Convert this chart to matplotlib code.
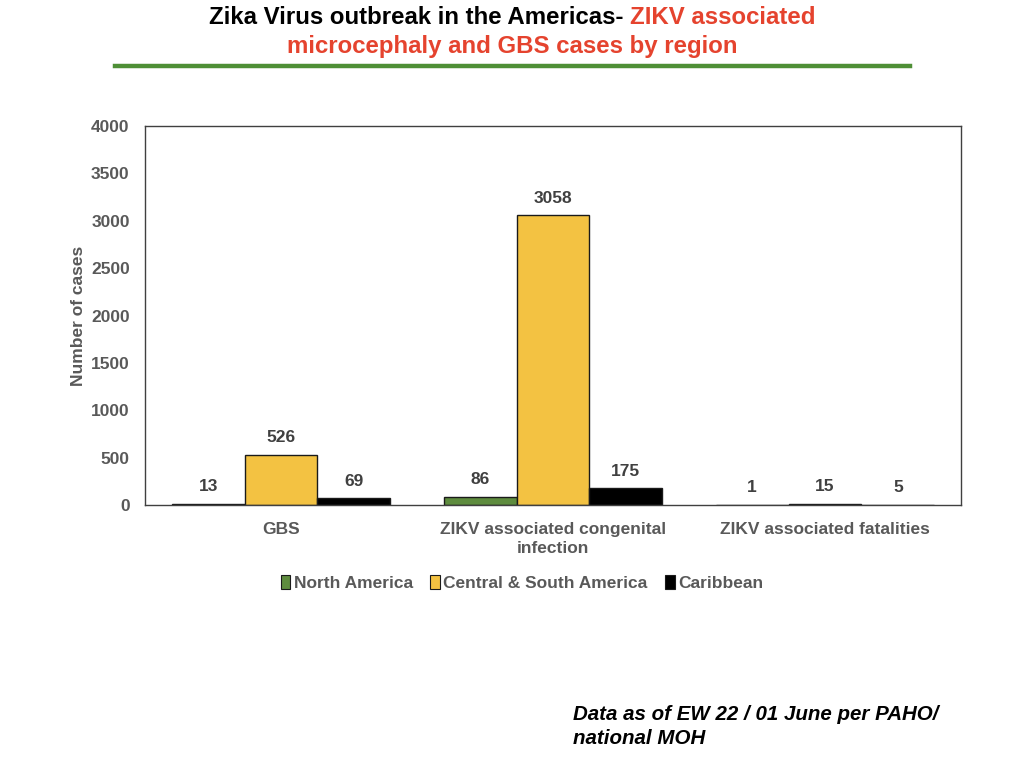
import matplotlib
matplotlib.use("Agg")
import matplotlib.pyplot as plt
import numpy as np
from matplotlib.patches import Patch
from matplotlib.lines import Line2D

categories = ["GBS", "ZIKV associated congenital\ninfection", "ZIKV associated fatalities"]
series_names = ["North America", "Central & South America", "Caribbean"]
north_america = [13, 86, 1]
central_south = [526, 3058, 15]
caribbean = [69, 175, 5]
yticks = [0, 500, 1000, 1500, 2000, 2500, 3000, 3500, 4000]

colors = ["#5e8c3e", "#f3c242", "#000000"]
gray = "#595959"

plt.rcParams['font.family'] = ['Liberation Sans', 'DejaVu Sans']

fig = plt.figure(figsize=(10.24, 7.68), dpi=100)
ax = fig.add_axes([145/1024, 1-505/768, 816/1024, 379/768])

x = np.arange(len(categories))
w = 0.268
allvals = [north_america, central_south, caribbean]
for i, (vals, c, name) in enumerate(zip(allvals, colors, series_names)):
    bars = ax.bar(x + (i-1)*w, vals, width=w, color=c, edgecolor="#1a1a1a", linewidth=1.0, label=name)
    for b, v in zip(bars, vals):
        ax.annotate(str(v), (b.get_x()+b.get_width()/2, v), xytext=(0, 7), textcoords="offset points",
                    ha="center", va="bottom", fontsize=12.5, fontweight="bold", color="#404040")

ax.set_xlim(-0.5, 2.5)
ax.set_ylim(0, 4000)
ax.set_yticks(yticks)
ax.set_yticklabels([str(t) for t in yticks], fontsize=12.5, fontweight="bold", color=gray)
ax.set_xticks(x)
ax.set_xticklabels(categories, fontsize=12.5, fontweight="bold", color=gray, linespacing=1.4)
ax.tick_params(axis="both", length=0)
ax.tick_params(axis="x", pad=12)
ax.tick_params(axis="y", pad=11)
for s in ax.spines.values():
    s.set_color("#404040")
    s.set_linewidth(1.0)
ax.set_ylabel("Number of cases", fontsize=12.5, fontweight="bold", color=gray)
ax.yaxis.set_label_coords((86-145)/816, 0.5)

handles = [Patch(facecolor=c, edgecolor="#1a1a1a", linewidth=0.8) for c in colors]
leg = fig.legend(handles, series_names, loc="center", bbox_to_anchor=(522/1024, 1-583/768), ncol=3,
                 frameon=False, handlelength=0.55, handleheight=0.85, handletextpad=0.2, columnspacing=1.0,
                 prop={"size": 12.5, "weight": "bold"})
for t in leg.get_texts():
    t.set_color(gray)

# Title with mixed colours
title_font = dict(fontsize=17.3, fontweight="bold")
red = "#e5432e"
t1 = fig.text(0, 1-18/768, "Zika Virus outbreak in the Americas- ", color="black", ha="left", va="center", **title_font)
t2 = fig.text(0, 1-18/768, "ZIKV associated", color=red, ha="left", va="center", **title_font)
fig.text(0.5, 1-46/768, "microcephaly and GBS cases by region", color=red, ha="center", va="center", **title_font)
fig.canvas.draw()
r = fig.canvas.get_renderer()
w1 = t1.get_window_extent(r).width / 1024
w2 = t2.get_window_extent(r).width / 1024
start = 0.5 - (w1 + w2) / 2
t1.set_x(start)
t2.set_x(start + w1)

fig.add_artist(Line2D([115/1024, 910/1024], [1-66/768, 1-66/768], color="#4e8f36", linewidth=3.2))

foot_font = dict(fontsize=14.8, fontweight="bold", fontstyle="italic", color="black", ha="left", va="center")
fig.text(573/1024, 1-714/768, "Data as of EW 22 / 01 June per PAHO/", **foot_font)
fig.text(573/1024, 1-738/768, "national MOH", **foot_font)

fig.savefig("out.png", dpi=100)
